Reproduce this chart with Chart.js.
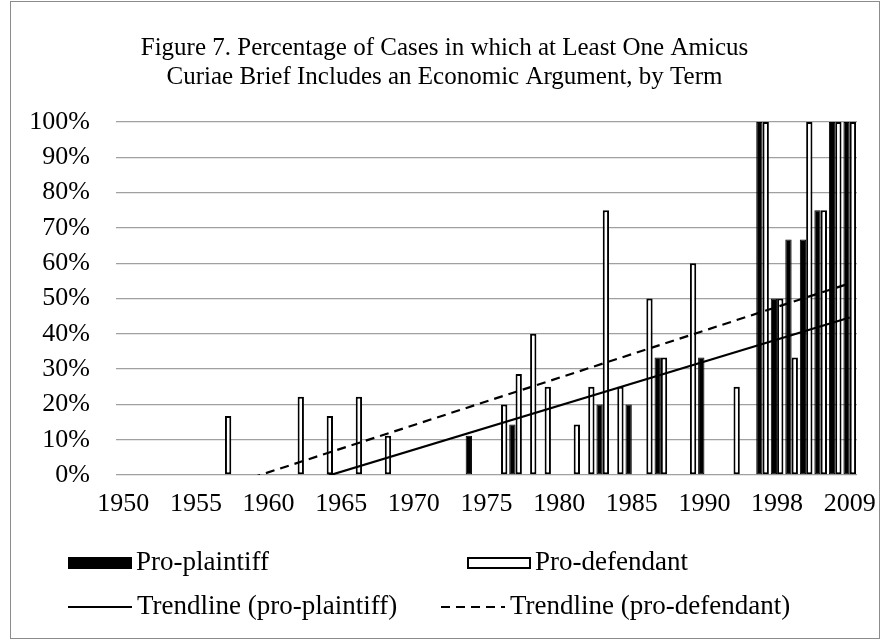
<!DOCTYPE html>
<html>
<head>
<meta charset="utf-8">
<script src="https://cdn.jsdelivr.net/npm/chart.js@4.4.0/dist/chart.umd.min.js"></script>
<style>
    html, body { margin: 0; padding: 0; background: #fff; }
    #wrap { width: 889px; height: 643px; }
</style>
</head>
<body>
<div id="wrap"><canvas id="amicusChart" width="889" height="643"></canvas></div>
<script>
// Terms on the category axis (only every fifth one gets a label)
const terms = [
    '1950', '1951', '1952', '1953', '1954', '1955', '1956', '1957', '1958', '1959',
    '1960', '1961', '1962', '1963', '1964', '1965', '1966', '1967', '1968', '1969',
    '1970', '1971', '1972', '1973', '1974', '1975', '1976', '1977', '1978', '1979',
    '1980', '1981', '1982', '1983', '1984', '1985', '1986', '1987', '1988', '1989',
    '1990', '1992', '1993', '1995', '1997', '1998', '2000', '2002', '2004', '2007',
    '2009'
];
const axisLabels = ['1950', '1955', '1960', '1965', '1970', '1975', '1980', '1985', '1990', '1998', '2009'];

// Percent of cases, per term (null = no bar)
const proPlaintiff = [
    null, null, null, null, null, null, null, null, null, null,
    null, null, null, null, null, null, null, null, null, null,
    null, null, null, null, 11.1, null, null, 14.3, null, null,
    null, null, null, 20, null, 20, null, 33.3, null, null,
    33.3, null, null, null, 100, 50, 66.7, 66.7, 75, 100,
    100
];
const proDefendant = [
    null, null, null, null, null, null, null, 16.7, null, null,
    null, null, 22.2, null, 16.7, null, 22.2, null, 11.1, null,
    null, null, null, null, null, null, 20, 28.6, 40, 25,
    null, 14.3, 25, 75, 25, null, 50, 33.3, null, 60,
    null, null, 25, null, 100, 50, 33.3, 100, 75, 100,
    100
];

// Linear trendlines, value at first and last term
const trendPlaintiff = [-17.8, 44.6];
const trendDefendant = [-12.6, 54.3];

const yTicks = [0, 10, 20, 30, 40, 50, 60, 70, 80, 90, 100];

const serif = "'Liberation Serif', 'Times New Roman', serif";

function trendPoints(ends) {
    return [
        { x: terms[0], y: ends[0] },
        { x: terms[terms.length - 1], y: ends[1] }
    ];
}

// Excel-style legend: two rows, two aligned columns
const gridLegend = {
    id: 'gridLegend',
    afterDraw(chart) {
        const ctx = chart.ctx;
        const ds = chart.data.datasets;
        const cols = [68, 441];
        const rows = [563, 607];
        ctx.save();
        ctx.font = '27px ' + serif;
        ctx.fillStyle = '#000';
        ctx.textBaseline = 'middle';

        // row 1: bars
        [0, 1].forEach(i => {
            const x = i === 0 ? cols[0] : 467;
            ctx.fillStyle = ds[i].backgroundColor;
            ctx.fillRect(x, rows[0] - 6, 64, 12);
            ctx.strokeStyle = '#000';
            ctx.lineWidth = 2;
            ctx.strokeRect(x + 1, rows[0] - 5, 62, 10);
            ctx.fillStyle = '#000';
            ctx.fillText(ds[i].label, x + 68, rows[0]);
        });

        // row 2: trendlines
        [2, 3].forEach((i, k) => {
            const x = cols[k];
            ctx.beginPath();
            ctx.setLineDash(ds[i].borderDash || []);
            ctx.lineWidth = 2;
            ctx.moveTo(x, rows[1]);
            ctx.lineTo(x + 64, rows[1]);
            ctx.stroke();
            ctx.setLineDash([]);
            ctx.fillText(ds[i].label, x + 69, rows[1]);
        });

        // outer frame
        ctx.strokeStyle = '#8c8c8c';
        ctx.lineWidth = 1;
        ctx.strokeRect(10.5, 1.5, 869, 637);
        ctx.restore();
    }
};

const ctx = document.getElementById('amicusChart');

new Chart(ctx, {
    data: {
        labels: terms,
        datasets: [
            {
                type: 'bar',
                label: 'Pro-plaintiff',
                data: proPlaintiff,
                backgroundColor: '#000',
                borderColor: '#000',
                borderWidth: 1,
                borderSkipped: false,
                categoryPercentage: 0.87,
                barPercentage: 1.0,
                order: 2
            },
            {
                type: 'bar',
                label: 'Pro-defendant',
                data: proDefendant,
                backgroundColor: '#fff',
                borderColor: '#000',
                borderWidth: 2,
                borderSkipped: false,
                categoryPercentage: 0.87,
                barPercentage: 1.0,
                order: 2
            },
            {
                type: 'line',
                label: 'Trendline (pro-plaintiff)',
                data: trendPoints(trendPlaintiff),
                borderColor: '#000',
                borderWidth: 2.2,
                pointRadius: 0,
                fill: false,
                order: 1
            },
            {
                type: 'line',
                label: 'Trendline (pro-defendant)',
                data: trendPoints(trendDefendant),
                borderColor: '#000',
                borderWidth: 2.2,
                borderDash: [9, 6],
                pointRadius: 0,
                fill: false,
                order: 1
            }
        ]
    },
    options: {
        responsive: false,
        animation: false,
        layout: {
            padding: { left: 0, right: 0, top: 0, bottom: 0 }
        },
        scales: {
            x: {
                type: 'category',
                grid: { display: false },
                border: { display: false },
                ticks: {
                    autoSkip: false,
                    maxRotation: 0,
                    padding: 6,
                    color: '#000',
                    font: { family: serif, size: 26 },
                    callback: function(value) {
                        const label = this.getLabelForValue(value);
                        return (value % 5 === 0 && axisLabels.includes(label)) ? label : '';
                    }
                },
                afterFit: function(scale) {
                    scale.height = 168;
                }
            },
            y: {
                min: 0,
                max: 100,
                grid: { color: '#a0a0a0', lineWidth: 1.3, drawTicks: false },
                border: { display: false },
                ticks: {
                    stepSize: 10,
                    padding: 26,
                    color: '#000',
                    font: { family: serif, size: 26 },
                    callback: function(value) {
                        return yTicks.includes(value) ? value + '%' : '';
                    }
                },
                afterFit: function(scale) {
                    scale.width = 116;
                }
            },
            // empty strip on the right so the plot ends where Excel's did
            rightGap: {
                position: 'right',
                display: true,
                grid: { display: false },
                border: { display: false },
                ticks: { display: false },
                afterFit: function(scale) {
                    scale.width = 32;
                }
            }
        },
        plugins: {
            legend: { display: false },
            tooltip: { enabled: false },
            title: {
                display: true,
                text: [
                    'Figure 7. Percentage of Cases in which at Least One Amicus',
                    'Curiae Brief Includes an Economic Argument, by Term'
                ],
                color: '#000',
                font: { family: serif, size: 25, weight: 'normal', lineHeight: 1.16 },
                padding: { top: 34, bottom: 30 }
            }
        }
    },
    plugins: [gridLegend]
});
</script>
</body>
</html>
